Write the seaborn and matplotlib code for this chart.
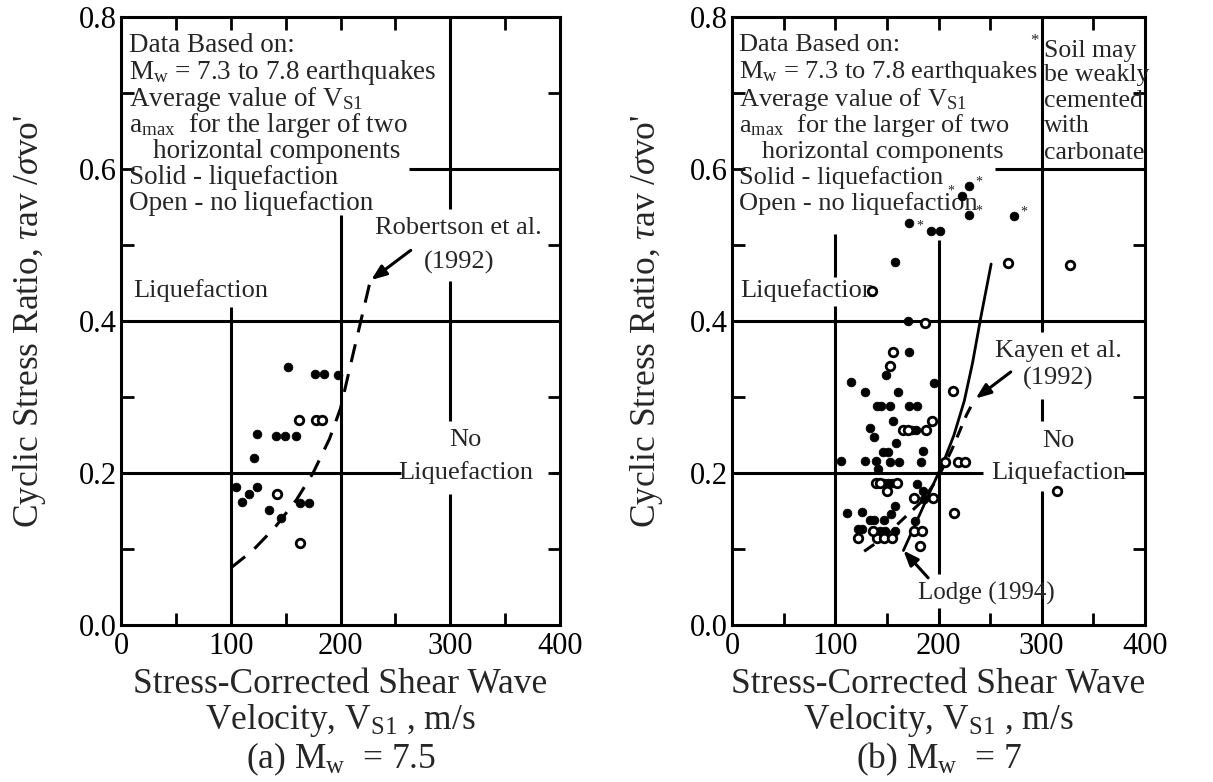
import matplotlib
matplotlib.use("Agg")
import matplotlib.pyplot as plt
from matplotlib.ticker import MultipleLocator, FixedLocator, FormatStrFormatter
import seaborn as sns

# ---------------- data: panel (a) Mw = 7.5 ----------------
a_liq_vs = [152, 177, 185, 198, 124, 141, 149, 159, 121, 105, 124, 110, 117, 135, 146, 163, 171]
a_liq_csr = [0.340, 0.330, 0.330, 0.329, 0.251, 0.249, 0.249, 0.249, 0.220, 0.182, 0.182,
             0.162, 0.172, 0.151, 0.141, 0.160, 0.160]
a_noliq_vs = [162, 178, 183, 142, 163]
a_noliq_csr = [0.270, 0.270, 0.270, 0.172, 0.108]
robertson_vs = [100, 120, 140, 160, 175, 190, 200, 212, 227]
robertson_csr = [0.075, 0.098, 0.128, 0.165, 0.200, 0.245, 0.285, 0.360, 0.452]

# ---------------- data: panel (b) Mw = 7 ----------------
b_liq_vs = [230, 223, 230, 273, 171, 193, 201, 158, 170,
            171, 149, 115, 196, 129, 161, 140, 144, 153, 171, 179, 156, 174, 178, 134, 138,
            159, 146, 151, 185, 106, 129, 139, 153, 162, 183, 141,
            147, 151, 155, 179, 185, 186, 111, 126, 158, 154, 134, 138, 147, 177, 122, 126,
            143, 148, 158]
b_liq_csr = [0.578, 0.565, 0.539, 0.538, 0.529, 0.519, 0.519, 0.478, 0.400,
             0.359, 0.329, 0.320, 0.319, 0.307, 0.306, 0.288, 0.288, 0.288, 0.288, 0.288, 0.268,
             0.257, 0.257, 0.259, 0.248, 0.239, 0.228, 0.228, 0.229, 0.216, 0.216, 0.216, 0.214,
             0.214, 0.214, 0.205,
             0.187, 0.187, 0.187, 0.185, 0.176, 0.166, 0.148, 0.149, 0.157, 0.146, 0.138, 0.138,
             0.138, 0.137, 0.126, 0.126, 0.124, 0.124, 0.124]
# soil may be weakly cemented (asterisk), side of the asterisk
b_star_vs = [230, 223, 230, 273, 193]
b_star_csr = [0.578, 0.565, 0.539, 0.538, 0.519]
b_star_side = ["r", "l", "r", "r", "l"]

b_noliq_vs = [136, 267, 327, 187, 156, 153, 214, 194, 166, 170, 188, 206, 219, 226,
              139, 143, 160, 150, 176, 195, 215, 315, 122, 140, 147, 155, 137, 176, 184, 182]
b_noliq_csr = [0.440, 0.476, 0.474, 0.398, 0.359, 0.341, 0.308, 0.269, 0.257, 0.257, 0.257,
               0.215, 0.215, 0.215, 0.187, 0.187, 0.187, 0.176, 0.167, 0.167, 0.148, 0.176,
               0.115, 0.115, 0.115, 0.115, 0.124, 0.124, 0.124, 0.104]
lodge_vs = [166, 175, 185, 195, 205, 215, 225, 233, 241, 251]
lodge_csr = [0.098, 0.125, 0.155, 0.185, 0.215, 0.250, 0.295, 0.345, 0.405, 0.475]
kayen_vs = [128, 145, 163, 185, 200, 213, 227, 235]
kayen_csr = [0.097, 0.113, 0.136, 0.164, 0.195, 0.231, 0.276, 0.297]

x_ticks = [0, 100, 200, 300, 400]
y_ticks = [0.0, 0.2, 0.4, 0.6, 0.8]

# ---------------- style ----------------
sns.set_style("ticks")
plt.rcParams["font.family"] = ["Liberation Serif", "DejaVu Serif"]
plt.rcParams["mathtext.fontset"] = "custom"
plt.rcParams["mathtext.rm"] = "Liberation Serif"
plt.rcParams["mathtext.it"] = "Liberation Serif:italic"
plt.rcParams["mathtext.bf"] = "Liberation Serif:bold"

W, H = 1213, 782
fig = plt.figure(figsize=(W / 100, H / 100), dpi=100)
ax_a = fig.add_axes([121 / W, 1 - 625 / H, 439 / W, 608 / H])
ax_b = fig.add_axes([732 / W, 1 - 625 / H, 413 / W, 608 / H])

LW = 2.2
TICK_FS = 22
LAB_FS = 25.5


def style_axes(ax, sub, ypad):
    ax.set_xlim(0, 400)
    ax.set_ylim(0, 0.8)
    ax.xaxis.set_major_locator(FixedLocator(x_ticks))
    ax.yaxis.set_major_locator(FixedLocator(y_ticks))
    ax.xaxis.set_minor_locator(MultipleLocator(50))
    ax.yaxis.set_minor_locator(MultipleLocator(0.1))
    ax.yaxis.set_major_formatter(FormatStrFormatter("%.1f"))
    ax.xaxis.set_major_formatter(FormatStrFormatter("%d"))
    ax.tick_params(which="both", direction="in", top=True, right=True, width=2,
                   color="black", labelsize=TICK_FS, labelcolor="black")
    ax.tick_params(which="major", length=9)
    ax.tick_params(axis="x", which="major", pad=5)
    ax.tick_params(axis="y", which="major", pad=3)
    ax.tick_params(which="minor", length=9)
    for s in ax.spines.values():
        s.set_linewidth(LW)
        s.set_color("black")
    ax.set_facecolor("white")
    ax.set_ylabel(r"Cyclic Stress Ratio, $\tau$av /$\sigma$vo'", fontsize=LAB_FS, labelpad=ypad)
    ax.set_xlabel("Stress-Corrected Shear Wave\nVelocity, V$_\\mathrm{S1}$ , m/s\n" + sub,
                  fontsize=LAB_FS, linespacing=1.05, labelpad=5)


def seg_h(ax, y, x0, x1):
    ax.plot([x0, x1], [y, y], color="black", lw=LW, solid_capstyle="butt", zorder=1)


def seg_v(ax, x, y0, y1):
    ax.plot([x, x], [y0, y1], color="black", lw=LW, solid_capstyle="butt", zorder=1)


box_lines = ["Data Based on:",
             "M$_\\mathrm{w}$ = 7.3 to 7.8 earthquakes",
             "Average value of V$_\\mathrm{S1}$",
             "a$_\\mathrm{max}$  for the larger of two",
             "horizontal components",
             "Solid - liquefaction",
             "Open - no liquefaction"]
box_y = [0.763, 0.727, 0.692, 0.657, 0.623, 0.589, 0.555]
box_x = [7, 7, 7, 7, 29, 7, 7]


def draw_box(ax, fs):
    for t, x, y in zip(box_lines, box_x, box_y):
        ax.text(x, y, t, fontsize=fs, ha="left", va="center")


arrow_kw = dict(arrowstyle="-|>,head_length=0.9,head_width=0.35", color="black", lw=2.2,
                shrinkA=0, shrinkB=0)

# ---------------- panel (a) ----------------
ax = ax_a
style_axes(ax, "(a) M$_\\mathrm{w}$  = 7.5", 22)
seg_h(ax, 0.6, 262, 400)
seg_h(ax, 0.4, 0, 400)
seg_h(ax, 0.2, 0, 255)
seg_h(ax, 0.2, 393, 400)
seg_v(ax, 100, 0, 0.418)
seg_v(ax, 200, 0, 0.54)
seg_v(ax, 300, 0.548, 0.8)
seg_v(ax, 300, 0.269, 0.452)
seg_v(ax, 300, 0, 0.172)
draw_box(ax, 19.5)
ax.text(11, 0.44, "Liquefaction", fontsize=19, ha="left", va="center")
ax.text(314, 0.244, "No", fontsize=19, ha="center", va="center")
ax.text(314, 0.201, "Liquefaction", fontsize=19, ha="center", va="center")
ax.text(307, 0.522, "Robertson et al.", fontsize=19, ha="center", va="center")
ax.text(308, 0.477, "(1992)", fontsize=19, ha="center", va="center")
sns.lineplot(x=robertson_vs, y=robertson_csr, ax=ax, color="black", lw=2.2,
             linestyle=(0, (6, 4)), sort=False, estimator=None, zorder=2)
ax.annotate("", xy=(228, 0.454), xytext=(264, 0.493), arrowprops=arrow_kw)
sns.scatterplot(x=a_liq_vs, y=a_liq_csr, ax=ax, color="black", edgecolor="black",
                s=40, linewidth=0.5, zorder=3)
sns.scatterplot(x=a_noliq_vs, y=a_noliq_csr, ax=ax, color="white", edgecolor="black",
                s=38, linewidth=2.0, zorder=3)

# ---------------- panel (b) ----------------
ax = ax_b
style_axes(ax, "(b) M$_\\mathrm{w}$  = 7", 18)
seg_h(ax, 0.6, 255, 400)
seg_h(ax, 0.4, 0, 400)
seg_h(ax, 0.2, 0, 243)
seg_h(ax, 0.2, 380, 400)
seg_v(ax, 100, 0, 0.42)
seg_v(ax, 100, 0.458, 0.515)
seg_v(ax, 200, 0, 0.022)
seg_v(ax, 200, 0.067, 0.507)
seg_v(ax, 300, 0.385, 0.8)
seg_v(ax, 300, 0.269, 0.298)
seg_v(ax, 300, 0, 0.176)
draw_box(ax, 19)
ax.text(297, 0.768, "*", fontsize=12, ha="right", va="center")
for t, y in zip(["Soil may", "be weakly", "cemented", "with", "carbonate"],
                [0.755, 0.724, 0.690, 0.657, 0.621]):
    ax.text(302, y, t, fontsize=18.5, ha="left", va="center")
ax.text(8, 0.44, "Liquefaction", fontsize=19, ha="left", va="center")
ax.text(316, 0.242, "No", fontsize=19, ha="center", va="center")
ax.text(316, 0.200, "Liquefaction", fontsize=19, ha="center", va="center")
ax.text(316, 0.360, "Kayen et al.", fontsize=19, ha="center", va="center")
ax.text(316, 0.324, "(1992)", fontsize=19, ha="center", va="center")
ax.text(246, 0.042, "Lodge (1994)", fontsize=18, ha="center", va="center")
sns.lineplot(x=lodge_vs, y=lodge_csr, ax=ax, color="black", lw=2.0,
             sort=False, estimator=None, zorder=2)
sns.lineplot(x=kayen_vs, y=kayen_csr, ax=ax, color="black", lw=2.2,
             linestyle=(0, (4, 3)), sort=False, estimator=None, zorder=2)
ax.annotate("", xy=(236, 0.298), xytext=(270, 0.333), arrowprops=arrow_kw)
ax.annotate("", xy=(166, 0.098), xytext=(190, 0.062), arrowprops=arrow_kw)
sns.scatterplot(x=b_liq_vs, y=b_liq_csr, ax=ax, color="black", edgecolor="black",
                s=40, linewidth=0.5, zorder=3)
sns.scatterplot(x=b_noliq_vs, y=b_noliq_csr, ax=ax, color="white", edgecolor="black",
                s=38, linewidth=2.0, zorder=3)
for x, y, side in zip(b_star_vs, b_star_csr, b_star_side):
    dx = 7 if side == "r" else -8
    ax.annotate("*", xy=(x, y), xytext=(dx, 3), textcoords="offset points",
                ha="center", va="center", fontsize=10)

fig.savefig("out.png", dpi=100, facecolor="white")
